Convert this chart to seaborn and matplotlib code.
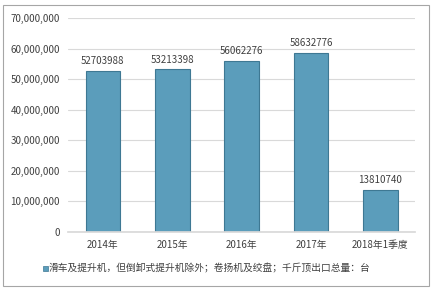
import matplotlib
matplotlib.use("Agg")
import matplotlib.pyplot as plt
import seaborn as sns
import pandas as pd
from matplotlib.patches import Rectangle
from matplotlib.ticker import FuncFormatter

categories = ["2014年", "2015年", "2016年", "2017年", "2018年1季度"]
values = [52703988, 53213398, 56062276, 58632776, 13810740]
series_name = "滑车及提升机，但倒卸式提升机除外；卷扬机及绞盘；千斤顶出口总量：台"

sns.set_theme(style="white")
plt.rcParams['font.family'] = ['Noto Sans CJK SC', 'DejaVu Sans']

df = pd.DataFrame({"cat": categories, "val": values})

fig = plt.figure(figsize=(4.37, 2.95), dpi=100)
ax = fig.add_axes([0.156, 0.214, 0.794, 0.725])

sns.barplot(data=df, x="cat", y="val", ax=ax, color="#5b9dbb", width=0.5,
            edgecolor="#3e7893", linewidth=0.8, saturation=1)

ax.set_ylim(0, 70000000)
ax.set_yticks(range(0, 70000001, 10000000))
ax.yaxis.set_major_formatter(FuncFormatter(lambda v, p: f"{int(v):,}"))
ax.yaxis.grid(True, color="#d9d9d9", linewidth=0.8)
ax.set_axisbelow(True)
for s in ["top", "right", "left"]:
    ax.spines[s].set_visible(False)
ax.spines["bottom"].set_color("#d9d9d9")
ax.set_xlabel("")
ax.set_ylabel("")
ax.tick_params(axis="both", labelsize=7, colors="#404040", length=0, pad=6)

for i, v in enumerate(values):
    ax.text(i, v + 1500000, str(v), ha="center", va="bottom", fontsize=7, color="#404040")

# legend
fig.patches.append(Rectangle((43/437, 1 - 271/295), 5/437, 5/295, transform=fig.transFigure,
                             facecolor="#5b9dbb", edgecolor="#3e7893", linewidth=0.5))
fig.text(49/437, 1 - 268.5/295, series_name, fontsize=7, color="#404040", va="center", ha="left")

# outer border
fig.patches.append(Rectangle((3/437, 1 - 286/295), 426/437, 281/295, transform=fig.transFigure,
                             fill=False, edgecolor="#a6a6a6", linewidth=0.8))

fig.savefig("out.png", dpi=100)
